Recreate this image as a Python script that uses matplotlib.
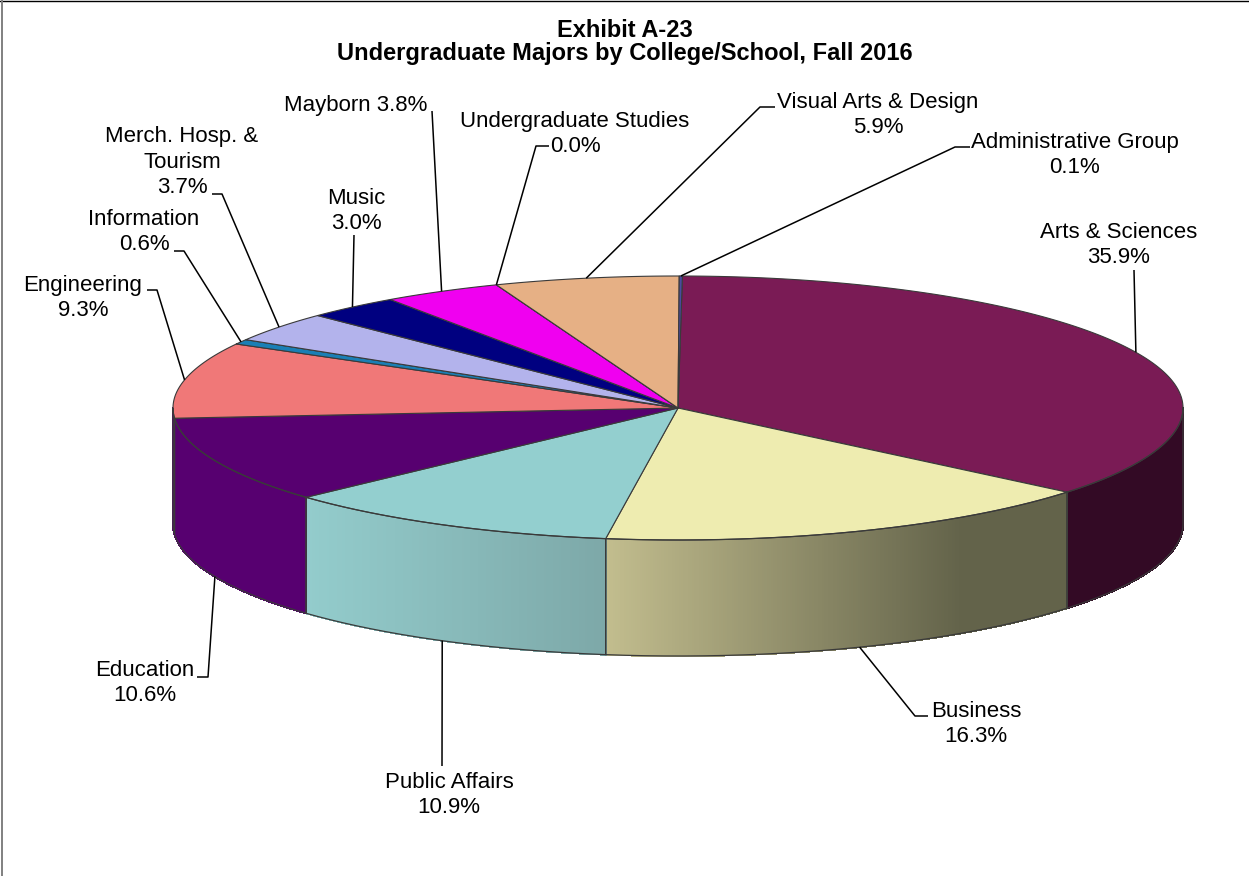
import numpy as np
import matplotlib
matplotlib.use('Agg')
import matplotlib.pyplot as plt
from matplotlib.collections import PolyCollection
from matplotlib.colors import to_rgb

plt.rcParams['font.family'] = ['Liberation Sans', 'DejaVu Sans']

# data, clockwise from 12 o'clock
majors = ['Arts & Sciences', 'Business', 'Public Affairs', 'Education', 'Engineering',
          'Information', 'Merch. Hosp. &\nTourism', 'Music', 'Mayborn',
          'Undergraduate Studies', 'Visual Arts & Design', 'Administrative Group']
shares = [35.9, 16.3, 10.9, 10.6, 9.3, 0.6, 3.7, 3.0, 3.8, 0.0, 5.9, 0.1]

title_lines = ['Exhibit A-23', 'Undergraduate Majors by College/School, Fall 2016']

# styles
top_colors = ['#7a1b55', '#eeecb0', '#93cfcf', '#570070', '#f07878', '#1a7fb5',
              '#b3b3ec', '#000080', '#f000f0', '#800080', '#e6b085', '#4a4aa0']
side_left = ['#330a25', '#c2bd8e', '#93cccc', '#570070', '#570070', '#0d4060',
             '#5a5a76', '#000040', '#780078', '#400040', '#735842', '#252550']
side_right = ['#330a25', '#63634a', '#7da8a8', '#570070', '#570070', '#0d4060',
              '#5a5a76', '#000040', '#780078', '#400040', '#735842', '#252550']
edge = '#3a3a3a'

# pie geometry in pixels
cx, cy = 678, 408
rx, ry = 505, 132
depth = 116
start_angle = 0.5
grad_end_x = 960   # side shading stops getting darker here

# label centres and the points of each leader after it leaves the rim
label_xy = [(1119, 245), (976, 724), (449, 795), (145, 683), (83, 298), (144, 232),
            (182, 162), (356, 211), (356, 105), (575, 134), (878, 115), (1075, 155)]
leaders = [[(1134, 270)],
           [(915, 716), (928, 716)],
           [(442, 766)],
           [(208, 677), (197, 677)],
           [(157, 290), (147, 290)],
           [(184, 251), (174, 251)],
           [(222, 194), (212, 194)],
           [(354, 235)],
           [(432, 111)],
           [(536, 146), (549, 146)],
           [(760, 107), (775, 107)],
           [(955, 147), (970, 147)]]


def rim(theta, drop=0):
    # theta in degrees, clockwise from top
    t = np.radians(theta)
    return np.column_stack([cx + rx * np.sin(t), cy - ry * np.cos(t) + drop])


fig = plt.figure(figsize=(12.49, 8.76), dpi=100)
ax = fig.add_axes([0, 0, 1, 1])
ax.set_xlim(0, 1249)
ax.set_ylim(876, 0)
ax.axis('off')

# frame only shows on top and left
ax.plot([0, 1249], [0.7, 0.7], color='black', lw=1.0)
ax.plot([1.8, 1.8], [0, 876], color='#808080', lw=1.4)

shares = np.array(shares)
cum = np.concatenate([[0], np.cumsum(shares)]) / shares.sum() * 360 + start_angle
mids = (cum[:-1] + cum[1:]) / 2

# sides first, only the part that faces us (90..270 degrees)
for i in range(len(shares)):
    a, b = max(cum[i], 90), min(cum[i + 1], 270)
    if b <= a:
        continue
    th = np.linspace(a, b, int((b - a) * 4) + 2)
    top, bot = rim(th), rim(th, depth)
    x0, x1 = top[:, 0].min(), min(top[:, 0].max(), grad_end_x)
    c0, c1 = np.array(to_rgb(side_left[i])), np.array(to_rgb(side_right[i]))
    polys, cols = [], []
    for k in range(len(th) - 1):
        polys.append([top[k], top[k + 1], bot[k + 1], bot[k]])
        f = np.clip((top[k:k + 2, 0].mean() - x0) / max(x1 - x0, 1), 0, 1)
        cols.append(c0 + (c1 - c0) * f)
    ax.add_collection(PolyCollection(polys, facecolors=cols, edgecolors=cols,
                                     linewidths=0.8, antialiaseds=False))
    outline = np.vstack([top, bot[::-1], top[:1]])
    ax.plot(outline[:, 0], outline[:, 1], color=edge, lw=0.9, solid_joinstyle='round')

# top face
for i in range(len(shares)):
    th = np.linspace(cum[i], cum[i + 1], max(int((cum[i + 1] - cum[i]) * 4), 2))
    pts = np.vstack([[cx, cy], rim(th)])
    ax.fill(pts[:, 0], pts[:, 1], fc=top_colors[i], ec=edge, lw=0.8, joinstyle='round')

# leaders and labels
for i, name in enumerate(majors):
    # front slices are touched on the lower rim
    on_front = 90 < mids[i] < 270
    start = rim(mids[i], depth if on_front else 0)[0]
    pts = np.vstack([start, leaders[i]])
    ax.plot(pts[:, 0], pts[:, 1], color='black', lw=1.1, solid_capstyle='butt')
    if name == 'Mayborn':
        txt = '%s %.1f%%' % (name, shares[i])
    else:
        txt = '%s\n%.1f%%' % (name, shares[i])
    ax.text(label_xy[i][0], label_xy[i][1], txt, ha='center', va='center',
            fontsize=16, linespacing=1.28, color='black')

ax.text(625, 42, '\n'.join(title_lines), ha='center', va='center', fontsize=17,
        fontweight='bold', linespacing=1.05, color='black')

fig.savefig('out.png', dpi=100, facecolor='white')
